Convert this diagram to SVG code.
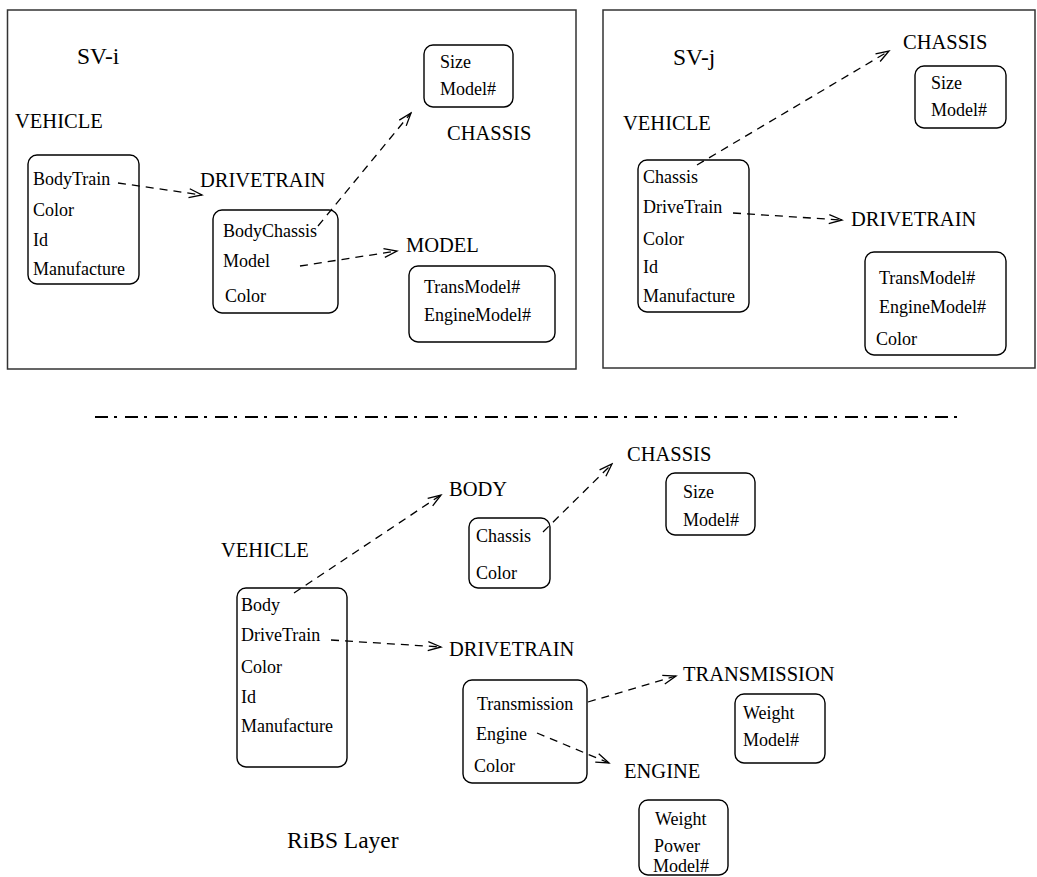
<svg xmlns="http://www.w3.org/2000/svg" width="1037" height="877" viewBox="0 0 1037 877">
  <style>
    text { font-family: "Liberation Serif", "Times New Roman", serif; fill: #000; }
    .title { font-size: 23.5px; }
    .label { font-size: 20.5px; }
    .attr { font-size: 18px; }
    .frame { fill: none; stroke: #333; stroke-width: 1.5; }
    .box { fill: none; stroke: #000; stroke-width: 1.4; }
    .link { fill: none; stroke: #000; stroke-width: 1.3; stroke-dasharray: 8 6; marker-end: url(#open); }
    .layer { fill: none; stroke: #000; stroke-width: 2; stroke-dasharray: 13 6 3 8; }
  </style>
  <defs>
    <marker id="open" viewBox="-14 -7 16 14" markerWidth="16" markerHeight="14" refX="0" refY="0" orient="auto" markerUnits="userSpaceOnUse">
      <path d="M -13,-4.5 L 0,0 L -13,4.5" fill="none" stroke="#000" stroke-width="1.3"/>
    </marker>
  </defs>
  <rect width="1037" height="877" fill="#fff"/>

  <!-- upper panels -->
  <rect class="frame" x="7.5" y="10" width="568.5" height="359"/>
  <rect class="frame" x="603" y="10" width="432" height="358"/>
  <text class="title" x="77" y="64">SV-i</text>
  <text class="title" x="673" y="65">SV-j</text>

  <!-- layer separator -->
  <line class="layer" x1="95" y1="417" x2="963" y2="417"/>
  <text class="title" x="287" y="848">RiBS Layer</text>

  <!-- SV-i -->
  <g id="svi-vehicle">
    <text class="label" x="15" y="128">VEHICLE</text>
    <rect class="box" x="28" y="155" width="111" height="129" rx="9"/>
    <text class="attr" x="33" y="185">BodyTrain</text>
    <text class="attr" x="33" y="216">Color</text>
    <text class="attr" x="33" y="246">Id</text>
    <text class="attr" x="33" y="275">Manufacture</text>
  </g>
  <g id="svi-drivetrain">
    <text class="label" x="200" y="187">DRIVETRAIN</text>
    <rect class="box" x="213" y="210" width="125" height="103" rx="9"/>
    <text class="attr" x="223" y="237">BodyChassis</text>
    <text class="attr" x="223" y="267">Model</text>
    <text class="attr" x="225" y="302">Color</text>
  </g>
  <g id="svi-chassis">
    <rect class="box" x="424" y="45" width="89" height="62" rx="9"/>
    <text class="attr" x="440" y="68">Size</text>
    <text class="attr" x="440" y="95">Model#</text>
    <text class="label" x="447" y="140">CHASSIS</text>
  </g>
  <g id="svi-model">
    <text class="label" x="406" y="252">MODEL</text>
    <rect class="box" x="409" y="266" width="146" height="76" rx="9"/>
    <text class="attr" x="424" y="293">TransModel#</text>
    <text class="attr" x="424" y="321">EngineModel#</text>
  </g>

  <!-- SV-j -->
  <g id="svj-vehicle">
    <text class="label" x="623" y="130">VEHICLE</text>
    <rect class="box" x="638" y="160" width="111" height="152" rx="9"/>
    <text class="attr" x="643" y="183">Chassis</text>
    <text class="attr" x="643" y="213">DriveTrain</text>
    <text class="attr" x="643" y="245">Color</text>
    <text class="attr" x="643" y="273">Id</text>
    <text class="attr" x="643" y="302">Manufacture</text>
  </g>
  <g id="svj-chassis">
    <text class="label" x="903" y="49">CHASSIS</text>
    <rect class="box" x="915" y="66" width="91" height="62" rx="9"/>
    <text class="attr" x="931" y="89">Size</text>
    <text class="attr" x="931" y="116">Model#</text>
  </g>
  <g id="svj-drivetrain">
    <text class="label" x="851" y="226">DRIVETRAIN</text>
    <rect class="box" x="865" y="252" width="141" height="103" rx="9"/>
    <text class="attr" x="879" y="284">TransModel#</text>
    <text class="attr" x="879" y="313">EngineModel#</text>
    <text class="attr" x="876" y="345">Color</text>
  </g>

  <!-- RiBS layer -->
  <g id="ribs-vehicle">
    <text class="label" x="221" y="557">VEHICLE</text>
    <rect class="box" x="237" y="588" width="110" height="179" rx="9"/>
    <text class="attr" x="241" y="611">Body</text>
    <text class="attr" x="241" y="641">DriveTrain</text>
    <text class="attr" x="241" y="673">Color</text>
    <text class="attr" x="241" y="703">Id</text>
    <text class="attr" x="241" y="732">Manufacture</text>
  </g>
  <g id="ribs-body">
    <text class="label" x="449" y="496">BODY</text>
    <rect class="box" x="469" y="518" width="81" height="70" rx="9"/>
    <text class="attr" x="476" y="542">Chassis</text>
    <text class="attr" x="476" y="579">Color</text>
  </g>
  <g id="ribs-chassis">
    <text class="label" x="627" y="461">CHASSIS</text>
    <rect class="box" x="666" y="473" width="89" height="62" rx="9"/>
    <text class="attr" x="683" y="498">Size</text>
    <text class="attr" x="683" y="526">Model#</text>
  </g>
  <g id="ribs-drivetrain">
    <text class="label" x="449" y="656">DRIVETRAIN</text>
    <rect class="box" x="463" y="680" width="124" height="103" rx="9"/>
    <text class="attr" x="477" y="710">Transmission</text>
    <text class="attr" x="476" y="740">Engine</text>
    <text class="attr" x="474" y="772">Color</text>
  </g>
  <g id="ribs-transmission">
    <text class="label" x="683" y="681">TRANSMISSION</text>
    <rect class="box" x="735" y="694" width="90" height="69" rx="9"/>
    <text class="attr" x="743" y="719">Weight</text>
    <text class="attr" x="743" y="746">Model#</text>
  </g>
  <g id="ribs-engine">
    <text class="label" x="624" y="778">ENGINE</text>
    <rect class="box" x="639" y="800" width="89" height="75" rx="9"/>
    <text class="attr" x="655" y="825">Weight</text>
    <text class="attr" x="654" y="852">Power</text>
    <text class="attr" x="653" y="872">Model#</text>
  </g>

  <!-- references between entities -->
  <g id="connectors">
    <line class="link" x1="118" y1="183" x2="202" y2="195"/>
    <line class="link" x1="318" y1="226" x2="411" y2="113"/>
    <line class="link" x1="300" y1="266" x2="397" y2="251"/>
    <line class="link" x1="697" y1="165" x2="889" y2="51"/>
    <line class="link" x1="733" y1="213" x2="842" y2="220"/>
    <line class="link" x1="294" y1="593" x2="441" y2="495"/>
    <line class="link" x1="543" y1="532" x2="612" y2="464"/>
    <line class="link" x1="331" y1="640" x2="441" y2="647"/>
    <line class="link" x1="588" y1="702" x2="676" y2="676"/>
    <line class="link" x1="537" y1="733" x2="609" y2="763"/>
  </g>
</svg>
